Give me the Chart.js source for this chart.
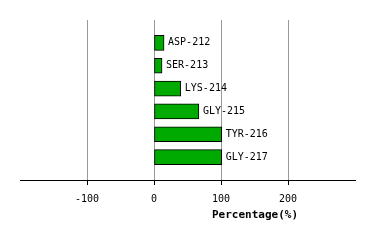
<!DOCTYPE html>
<html>
<head>
<meta charset="utf-8">
<script src="https://cdn.jsdelivr.net/npm/chart.js@4/dist/chart.umd.min.js"></script>
<style>
  html, body { margin: 0; padding: 0; background: #fff; }
  #wrap { width: 374px; height: 240px; }
</style>
</head>
<body>
<div id="wrap"><canvas id="grafico"></canvas></div>
<script>
// residuos y porcentajes
const residuos = ['ASP-212', 'SER-213', 'LYS-214', 'GLY-215', 'TYR-216', 'GLY-217'];
const porcentajes = [15, 12, 40, 67, 101, 101];
const ticksX = [-100, 0, 100, 200];
const tituloX = 'Percentage(%)';

// huecos arriba y abajo para que las barras queden como en el original
const etiquetas = [''].concat(residuos, ['']);
const valores = [null].concat(porcentajes, [null]);

const fuente = '"DejaVu Sans Mono", monospace';

// nombres a la derecha de cada barra + titulo del eje
const textos = {
  id: 'textos',
  afterDatasetsDraw(chart) {
    const ctx = chart.ctx;
    const meta = chart.getDatasetMeta(0);
    ctx.save();
    ctx.font = '10px ' + fuente;
    ctx.fillStyle = '#000';
    ctx.textBaseline = 'middle';
    ctx.textAlign = 'left';
    meta.data.forEach(function(bar, i) {
      if (valores[i] == null) return;
      ctx.fillText(etiquetas[i], bar.x + 4, bar.y);
    });
    ctx.font = 'bold 11px ' + fuente;
    ctx.textAlign = 'center';
    ctx.fillText(tituloX, 255, 215);
    ctx.restore();
  }
};

new Chart(document.getElementById('grafico'), {
  type: 'bar',
  data: {
    labels: etiquetas,
    datasets: [{
      data: valores,
      backgroundColor: '#00aa00',
      borderColor: '#000',
      borderWidth: 1,
      borderSkipped: false,
      barThickness: 15
    }]
  },
  options: {
    indexAxis: 'y',
    responsive: true,
    maintainAspectRatio: false,
    animation: false,
    layout: { padding: { left: 20, right: 19, top: 20, bottom: 0 } },
    plugins: {
      legend: { display: false },
      tooltip: { enabled: false }
    },
    scales: {
      y: {
        type: 'category',
        display: false,
        offset: false
      },
      x: {
        min: -200,
        max: 300,
        afterFit: function(scale) { scale.height = 60; },
        afterBuildTicks: function(scale) {
          scale.ticks = [-200].concat(ticksX, [300]).map(v => ({ value: v }));
        },
        border: { color: '#000', width: 1 },
        grid: {
          color: ctx => ticksX.includes(ctx.tick && ctx.tick.value) ? '#999999' : 'rgba(0,0,0,0)',
          tickColor: ctx => ticksX.includes(ctx.tick && ctx.tick.value) ? '#000' : 'rgba(0,0,0,0)',
          tickLength: 5,
          lineWidth: 1
        },
        ticks: {
          color: '#000',
          padding: 8,
          maxRotation: 0,
          autoSkip: false,
          font: { family: fuente, size: 10 },
          callback: v => ticksX.includes(v) ? String(v) : ''
        }
      }
    }
  },
  plugins: [textos]
});
</script>
</body>
</html>
